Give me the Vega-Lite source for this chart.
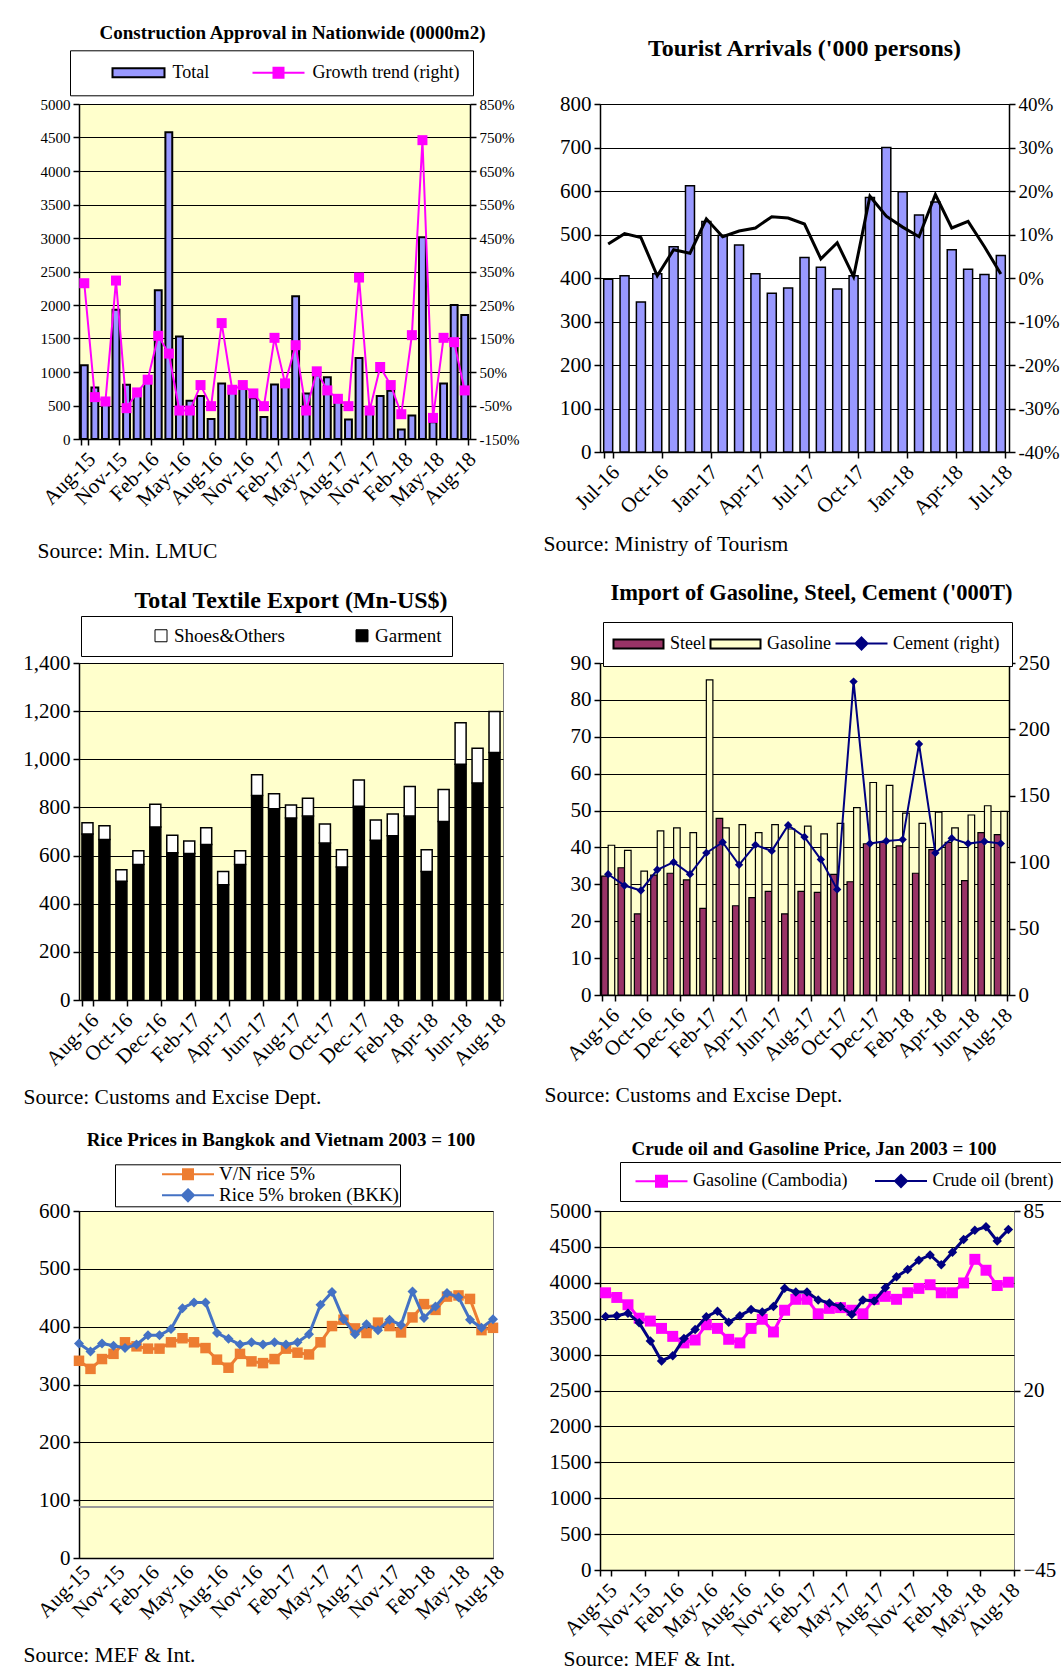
{
  "$schema": "https://vega.github.io/schema/vega-lite/v6.json",
  "padding": {"left": 22, "top": 23, "right": 0, "bottom": 0},
  "background": "white",
  "columns": 2,
  "align": "none",
  "bounds": "flush",
  "spacing": {"row": 211, "column": 97},
  "resolve": {
    "scale": {"color": "independent", "shape": "independent", "stroke": "independent", "fill": "independent"},
    "legend": {"color": "independent", "shape": "independent", "stroke": "independent", "fill": "independent"}
  },
  "datasets": {
    "p1": [
      {"m": "Aug-15", "total": 1100, "growth": 315}, {"m": "Sep-15", "total": 770, "growth": -25}, {"m": "Oct-15", "total": 560, "growth": -38},
      {"m": "Nov-15", "total": 1930, "growth": 323}, {"m": "Dec-15", "total": 810, "growth": -58}, {"m": "Jan-16", "total": 650, "growth": -11},
      {"m": "Feb-16", "total": 900, "growth": 27}, {"m": "Mar-16", "total": 2220, "growth": 158}, {"m": "Apr-16", "total": 4580, "growth": 105},
      {"m": "May-16", "total": 1530, "growth": -65}, {"m": "Jun-16", "total": 570, "growth": -65}, {"m": "Jul-16", "total": 640, "growth": 11},
      {"m": "Aug-16", "total": 300, "growth": -52}, {"m": "Sep-16", "total": 830, "growth": 196}, {"m": "Oct-16", "total": 720, "growth": -3},
      {"m": "Nov-16", "total": 750, "growth": 11}, {"m": "Dec-16", "total": 610, "growth": -14}, {"m": "Jan-17", "total": 330, "growth": -52},
      {"m": "Feb-17", "total": 815, "growth": 152}, {"m": "Mar-17", "total": 780, "growth": 16}, {"m": "Apr-17", "total": 2130, "growth": 130},
      {"m": "May-17", "total": 680, "growth": -65}, {"m": "Jun-17", "total": 950, "growth": 52}, {"m": "Jul-17", "total": 920, "growth": -5},
      {"m": "Aug-17", "total": 560, "growth": -30}, {"m": "Sep-17", "total": 290, "growth": -52}, {"m": "Oct-17", "total": 1210, "growth": 332},
      {"m": "Nov-17", "total": 400, "growth": -65}, {"m": "Dec-17", "total": 640, "growth": 65}, {"m": "Jan-18", "total": 720, "growth": 11},
      {"m": "Feb-18", "total": 140, "growth": -76}, {"m": "Mar-18", "total": 350, "growth": 160}, {"m": "Apr-18", "total": 3010, "growth": 742},
      {"m": "May-18", "total": 250, "growth": -87}, {"m": "Jun-18", "total": 830, "growth": 152}, {"m": "Jul-18", "total": 2000, "growth": 139},
      {"m": "Aug-18", "total": 1850, "growth": -5}
    ],
    "p2": [
      {"m": "Jul-16", "arr": 397, "g": 7.8}, {"m": "Aug-16", "arr": 405, "g": 10.2}, {"m": "Sep-16", "arr": 345, "g": 9.3},
      {"m": "Oct-16", "arr": 410, "g": 0.5}, {"m": "Nov-16", "arr": 472, "g": 6.5}, {"m": "Dec-16", "arr": 612, "g": 5.7},
      {"m": "Jan-17", "arr": 530, "g": 13.6}, {"m": "Feb-17", "arr": 498, "g": 9.5}, {"m": "Mar-17", "arr": 476, "g": 10.8},
      {"m": "Apr-17", "arr": 410, "g": 11.5}, {"m": "May-17", "arr": 365, "g": 14.1}, {"m": "Jun-17", "arr": 377, "g": 13.8},
      {"m": "Jul-17", "arr": 447, "g": 12.4}, {"m": "Aug-17", "arr": 425, "g": 4.4}, {"m": "Sep-17", "arr": 375, "g": 8.1},
      {"m": "Oct-17", "arr": 405, "g": 0.3}, {"m": "Nov-17", "arr": 585, "g": 18.8}, {"m": "Dec-17", "arr": 700, "g": 14.2},
      {"m": "Jan-18", "arr": 598, "g": 11.7}, {"m": "Feb-18", "arr": 545, "g": 9.5}, {"m": "Mar-18", "arr": 575, "g": 19.2},
      {"m": "Apr-18", "arr": 465, "g": 11.5}, {"m": "May-18", "arr": 420, "g": 13}, {"m": "Jun-18", "arr": 408, "g": 7.2},
      {"m": "Jul-18", "arr": 452, "g": 0.9}
    ],
    "p3": [
      {"m": "Aug-16", "type": "Garment", "v": 690}, {"m": "Aug-16", "type": "Shoes&Others", "v": 46},
      {"m": "Sep-16", "type": "Garment", "v": 667}, {"m": "Sep-16", "type": "Shoes&Others", "v": 57},
      {"m": "Oct-16", "type": "Garment", "v": 493}, {"m": "Oct-16", "type": "Shoes&Others", "v": 48},
      {"m": "Nov-16", "type": "Garment", "v": 563}, {"m": "Nov-16", "type": "Shoes&Others", "v": 57},
      {"m": "Dec-16", "type": "Garment", "v": 719}, {"m": "Dec-16", "type": "Shoes&Others", "v": 94},
      {"m": "Jan-17", "type": "Garment", "v": 612}, {"m": "Jan-17", "type": "Shoes&Others", "v": 72},
      {"m": "Feb-17", "type": "Garment", "v": 609}, {"m": "Feb-17", "type": "Shoes&Others", "v": 52},
      {"m": "Mar-17", "type": "Garment", "v": 646}, {"m": "Mar-17", "type": "Shoes&Others", "v": 70},
      {"m": "Apr-17", "type": "Garment", "v": 479}, {"m": "Apr-17", "type": "Shoes&Others", "v": 55},
      {"m": "May-17", "type": "Garment", "v": 563}, {"m": "May-17", "type": "Shoes&Others", "v": 57},
      {"m": "Jun-17", "type": "Garment", "v": 850}, {"m": "Jun-17", "type": "Shoes&Others", "v": 86},
      {"m": "Jul-17", "type": "Garment", "v": 794}, {"m": "Jul-17", "type": "Shoes&Others", "v": 63},
      {"m": "Aug-17", "type": "Garment", "v": 756}, {"m": "Aug-17", "type": "Shoes&Others", "v": 54},
      {"m": "Sep-17", "type": "Garment", "v": 764}, {"m": "Sep-17", "type": "Shoes&Others", "v": 74},
      {"m": "Oct-17", "type": "Garment", "v": 652}, {"m": "Oct-17", "type": "Shoes&Others", "v": 79},
      {"m": "Nov-17", "type": "Garment", "v": 553}, {"m": "Nov-17", "type": "Shoes&Others", "v": 71},
      {"m": "Dec-17", "type": "Garment", "v": 805}, {"m": "Dec-17", "type": "Shoes&Others", "v": 109},
      {"m": "Jan-18", "type": "Garment", "v": 664}, {"m": "Jan-18", "type": "Shoes&Others", "v": 84},
      {"m": "Feb-18", "type": "Garment", "v": 682}, {"m": "Feb-18", "type": "Shoes&Others", "v": 91},
      {"m": "Mar-18", "type": "Garment", "v": 764}, {"m": "Mar-18", "type": "Shoes&Others", "v": 123},
      {"m": "Apr-18", "type": "Garment", "v": 534}, {"m": "Apr-18", "type": "Shoes&Others", "v": 90},
      {"m": "May-18", "type": "Garment", "v": 742}, {"m": "May-18", "type": "Shoes&Others", "v": 133},
      {"m": "Jun-18", "type": "Garment", "v": 979}, {"m": "Jun-18", "type": "Shoes&Others", "v": 173},
      {"m": "Jul-18", "type": "Garment", "v": 902}, {"m": "Jul-18", "type": "Shoes&Others", "v": 144},
      {"m": "Aug-18", "type": "Garment", "v": 1028}, {"m": "Aug-18", "type": "Shoes&Others", "v": 171}
    ],
    "p4": [
      {"m": "Aug-16", "Steel": 32.2, "Gasoline": 40.6, "cement": 90.9}, {"m": "Sep-16", "Steel": 34.5, "Gasoline": 39.2, "cement": 82.4},
      {"m": "Oct-16", "Steel": 22, "Gasoline": 33.6, "cement": 78.7}, {"m": "Nov-16", "Steel": 32.5, "Gasoline": 44.5, "cement": 94.3},
      {"m": "Dec-16", "Steel": 33, "Gasoline": 45.3, "cement": 100}, {"m": "Jan-17", "Steel": 31.2, "Gasoline": 44, "cement": 91},
      {"m": "Feb-17", "Steel": 23.5, "Gasoline": 85.4, "cement": 107}, {"m": "Mar-17", "Steel": 47.9, "Gasoline": 45.3, "cement": 115},
      {"m": "Apr-17", "Steel": 24.2, "Gasoline": 46.2, "cement": 98}, {"m": "May-17", "Steel": 26.4, "Gasoline": 44, "cement": 113},
      {"m": "Jun-17", "Steel": 28.1, "Gasoline": 46.2, "cement": 108.5}, {"m": "Jul-17", "Steel": 22, "Gasoline": 45, "cement": 127.8},
      {"m": "Aug-17", "Steel": 28.1, "Gasoline": 45.8, "cement": 119}, {"m": "Sep-17", "Steel": 27.8, "Gasoline": 43.7, "cement": 102},
      {"m": "Oct-17", "Steel": 32.7, "Gasoline": 46.5, "cement": 79.5}, {"m": "Nov-17", "Steel": 30.7, "Gasoline": 50.8, "cement": 236},
      {"m": "Dec-17", "Steel": 41, "Gasoline": 57.6, "cement": 114}, {"m": "Jan-18", "Steel": 41.4, "Gasoline": 56.8, "cement": 116},
      {"m": "Feb-18", "Steel": 40.4, "Gasoline": 49.3, "cement": 117}, {"m": "Mar-18", "Steel": 33, "Gasoline": 46.5, "cement": 189},
      {"m": "Apr-18", "Steel": 39.4, "Gasoline": 49.6, "cement": 107}, {"m": "May-18", "Steel": 41.4, "Gasoline": 45.3, "cement": 118},
      {"m": "Jun-18", "Steel": 31, "Gasoline": 48.8, "cement": 114}, {"m": "Jul-18", "Steel": 44, "Gasoline": 51.3, "cement": 115.6},
      {"m": "Aug-18", "Steel": 43.5, "Gasoline": 49.8, "cement": 114}
    ],
    "p5": [
      {"m": "Aug-15", "vn": 341, "bkk": 371}, {"m": "Sep-15", "vn": 327, "bkk": 357}, {"m": "Oct-15", "vn": 344, "bkk": 371},
      {"m": "Nov-15", "vn": 353, "bkk": 367}, {"m": "Dec-15", "vn": 373, "bkk": 363}, {"m": "Jan-16", "vn": 366, "bkk": 369},
      {"m": "Feb-16", "vn": 362, "bkk": 385}, {"m": "Mar-16", "vn": 362, "bkk": 385}, {"m": "Apr-16", "vn": 373, "bkk": 396},
      {"m": "May-16", "vn": 380, "bkk": 432}, {"m": "Jun-16", "vn": 373, "bkk": 442}, {"m": "Jul-16", "vn": 363, "bkk": 442},
      {"m": "Aug-16", "vn": 343, "bkk": 389}, {"m": "Sep-16", "vn": 329, "bkk": 379}, {"m": "Oct-16", "vn": 353, "bkk": 369},
      {"m": "Nov-16", "vn": 340, "bkk": 373}, {"m": "Dec-16", "vn": 337, "bkk": 369}, {"m": "Jan-17", "vn": 344, "bkk": 373},
      {"m": "Feb-17", "vn": 362, "bkk": 369}, {"m": "Mar-17", "vn": 355, "bkk": 373}, {"m": "Apr-17", "vn": 352, "bkk": 387},
      {"m": "May-17", "vn": 373, "bkk": 438}, {"m": "Jun-17", "vn": 401, "bkk": 460}, {"m": "Jul-17", "vn": 412, "bkk": 413},
      {"m": "Aug-17", "vn": 397, "bkk": 387}, {"m": "Sep-17", "vn": 389, "bkk": 404}, {"m": "Oct-17", "vn": 407, "bkk": 394},
      {"m": "Nov-17", "vn": 401, "bkk": 412}, {"m": "Dec-17", "vn": 390, "bkk": 403}, {"m": "Jan-18", "vn": 416, "bkk": 461},
      {"m": "Feb-18", "vn": 439, "bkk": 415}, {"m": "Mar-18", "vn": 429, "bkk": 435}, {"m": "Apr-18", "vn": 452, "bkk": 458},
      {"m": "May-18", "vn": 454, "bkk": 451}, {"m": "Jun-18", "vn": 448, "bkk": 412}, {"m": "Jul-18", "vn": 394, "bkk": 398},
      {"m": "Aug-18", "vn": 398, "bkk": 413}
    ],
    "p6": [
      {"m": "Aug-15", "gas": 3861, "crude": 46.8}, {"m": "Sep-15", "gas": 3796, "crude": 47.1}, {"m": "Oct-15", "gas": 3694, "crude": 48.0},
      {"m": "Nov-15", "gas": 3507, "crude": 44.5}, {"m": "Dec-15", "gas": 3467, "crude": 37.9}, {"m": "Jan-16", "gas": 3365, "crude": 30.7},
      {"m": "Feb-16", "gas": 3254, "crude": 32.6}, {"m": "Mar-16", "gas": 3163, "crude": 38.8}, {"m": "Apr-16", "gas": 3203, "crude": 42.1},
      {"m": "May-16", "gas": 3416, "crude": 46.7}, {"m": "Jun-16", "gas": 3365, "crude": 48.7}, {"m": "Jul-16", "gas": 3213, "crude": 44.7},
      {"m": "Aug-16", "gas": 3163, "crude": 47.1}, {"m": "Sep-16", "gas": 3365, "crude": 49.3}, {"m": "Oct-16", "gas": 3492, "crude": 48.4},
      {"m": "Nov-16", "gas": 3315, "crude": 50.4}, {"m": "Dec-16", "gas": 3618, "crude": 57.0}, {"m": "Jan-17", "gas": 3770, "crude": 55.7},
      {"m": "Feb-17", "gas": 3770, "crude": 55.7}, {"m": "Mar-17", "gas": 3568, "crude": 52.8}, {"m": "Apr-17", "gas": 3644, "crude": 51.7},
      {"m": "May-17", "gas": 3654, "crude": 50.4}, {"m": "Jun-17", "gas": 3618, "crude": 47.5}, {"m": "Jul-17", "gas": 3568, "crude": 52.8},
      {"m": "Aug-17", "gas": 3770, "crude": 52.4}, {"m": "Sep-17", "gas": 3811, "crude": 57.2}, {"m": "Oct-17", "gas": 3770, "crude": 61.2},
      {"m": "Nov-17", "gas": 3861, "crude": 63.8}, {"m": "Dec-17", "gas": 3922, "crude": 67.2}, {"m": "Jan-18", "gas": 3973, "crude": 69.1},
      {"m": "Feb-18", "gas": 3861, "crude": 65.5}, {"m": "Mar-18", "gas": 3861, "crude": 70.1}, {"m": "Apr-18", "gas": 3998, "crude": 74.7},
      {"m": "May-18", "gas": 4327, "crude": 78.0}, {"m": "Jun-18", "gas": 4175, "crude": 79.3}, {"m": "Jul-18", "gas": 3962, "crude": 74.1},
      {"m": "Aug-18", "gas": 4008, "crude": 78.3}
    ]
  },
  "concat": [
    {
      "width": 391, "height": 335,
      "title": {"text": "Construction Approval in Nationwide (0000m2)", "fontSize": 19, "offset": -12, "baseline": "bottom", "dx": 18},
      "layer": [
        {
          "data": {"name": "p1"},
          "mark": {"type": "bar", "fill": "#9999FF", "stroke": "black", "strokeWidth": 2},
          "encoding": {
            "x": {"field": "m", "type": "nominal", "sort": null, "scale": {"paddingInner": 0.35, "paddingOuter": 0.175},
              "axis": {"values": ["Aug-15","Nov-15","Feb-16","May-16","Aug-16","Nov-16","Feb-17","May-17","Aug-17","Nov-17","Feb-18","May-18","Aug-18"],
                "labelFontSize": 21, "title": "Source: Min. LMUC", "titleX": -42, "titleY": 112.3, "titleAlign": "left", "titleBaseline": "middle", "titleAngle": 0}},
            "y": {"field": "total", "type": "quantitative", "scale": {"domain": [0, 5000]},
              "axis": {"values": [0,500,1000,1500,2000,2500,3000,3500,4000,4500,5000], "format": "d", "title": null, "grid": true, "labelFontSize": 15}}
          }
        },
        {
          "data": {"name": "p1"},
          "mark": {"type": "line", "color": "#FF00FF", "strokeWidth": 2, "point": {"shape": "square", "size": 100, "filled": true, "color": "#FF00FF"}},
          "encoding": {
            "x": {"field": "m", "type": "nominal", "sort": null},
            "y": {"field": "growth", "type": "quantitative", "scale": {"domain": [-150, 850]},
              "axis": {"orient": "right", "values": [-150,-50,50,150,250,350,450,550,650,750,850], "labelExpr": "datum.value + '%'", "title": null, "grid": false, "labelFontSize": 15}}
          }
        },
        {
          "data": {"values": [{"s": "Total"}, {"s": "Growth trend (right)"}]},
          "mark": {"type": "point", "filled": true, "clip": true},
          "encoding": {
            "y": {"datum": 5, "type": "quantitative", "scale": {"domain": [0, 1]}, "axis": null},
            "color": {"field": "s", "type": "nominal", "scale": {"domain": ["Total", "Growth trend (right)"], "range": ["#9999FF", "#FF00FF"]},
              "legend": {"title": null, "orient": "none", "legendX": -9, "legendY": -53.7, "direction": "horizontal", "padding": 13.5, "columnPadding": 14, "symbolOffset": 46, "labelOffset": 25, "labelFontSize": 18}},
            "shape": {"field": "s", "type": "nominal", "scale": {"domain": ["Total", "Growth trend (right)"], "range": ["M-5.2,-0.9H5.2V0.9H-5.2Z", "M-5.2,0H5.2M-1,-1H1V1H-1Z"]},
              "legend": {"title": null, "orient": "none", "legendX": -9, "legendY": -53.7, "direction": "horizontal", "padding": 13.5, "columnPadding": 14, "symbolOffset": 46, "labelOffset": 25, "labelFontSize": 18}},
            "stroke": {"field": "s", "type": "nominal", "scale": {"domain": ["Total", "Growth trend (right)"], "range": ["black", "#FF00FF"]},
              "legend": {"title": null, "orient": "none", "legendX": -9, "legendY": -53.7, "direction": "horizontal", "padding": 13.5, "columnPadding": 14, "symbolOffset": 46, "labelOffset": 25, "labelFontSize": 18}}
          }
        }
      ],
      "resolve": {"scale": {"y": "independent"}}
    },
    {
      "width": 409, "height": 348,
      "view": {"fill": "white", "stroke": "black"},
      "title": {"text": "Tourist Arrivals ('000 persons)", "fontSize": 24, "offset": 8.3, "baseline": "bottom"},
      "layer": [
        {
          "data": {"name": "p2"},
          "mark": {"type": "bar", "fill": "#9999FF", "stroke": "black", "strokeWidth": 1.5},
          "encoding": {
            "x": {"field": "m", "type": "nominal", "sort": null, "scale": {"paddingInner": 0.45, "paddingOuter": 0.225},
              "axis": {"values": ["Jul-16","Oct-16","Jan-17","Apr-17","Jul-17","Oct-17","Jan-18","Apr-18","Jul-18"],
                "labelFontSize": 21, "title": "Source: Ministry of Tourism", "titleX": -57, "titleY": 92.3, "titleAlign": "left", "titleBaseline": "middle", "titleAngle": 0}},
            "y": {"field": "arr", "type": "quantitative", "scale": {"domain": [0, 800]},
              "axis": {"values": [0,100,200,300,400,500,600,700,800], "title": null, "grid": true, "labelFontSize": 21}}
          }
        },
        {
          "data": {"name": "p2"},
          "mark": {"type": "line", "color": "black", "strokeWidth": 3},
          "encoding": {
            "x": {"field": "m", "type": "nominal", "sort": null},
            "y": {"field": "g", "type": "quantitative", "scale": {"domain": [-40, 40]},
              "axis": {"orient": "right", "values": [-40,-30,-20,-10,0,10,20,30,40], "labelExpr": "datum.value + '%'", "title": null, "grid": false, "labelFontSize": 19}}
          }
        }
      ],
      "resolve": {"scale": {"y": "independent"}}
    },
    {
      "width": 424, "height": 337,
      "title": {"text": "Total Textile Export (Mn-US$)", "fontSize": 24, "offset": -21, "baseline": "bottom"},
      "data": {"name": "p3"},
      "mark": {"type": "bar", "stroke": "black", "strokeWidth": 1.5},
      "encoding": {
        "x": {"field": "m", "type": "nominal", "sort": null, "scale": {"paddingInner": 0.35, "paddingOuter": 0.175},
          "axis": {"values": ["Aug-16","Oct-16","Dec-16","Feb-17","Apr-17","Jun-17","Aug-17","Oct-17","Dec-17","Feb-18","Apr-18","Jun-18","Aug-18"],
            "labelFontSize": 21, "title": "Source: Customs and Excise Dept.", "titleX": -56, "titleY": 97.3, "titleAlign": "left", "titleBaseline": "middle", "titleAngle": 0}},
        "y": {"field": "v", "type": "quantitative", "stack": "zero", "scale": {"domain": [0, 1400]},
          "axis": {"values": [0,200,400,600,800,1000,1200,1400], "format": ",.0f", "title": null, "grid": true, "labelFontSize": 21}},
        "order": {"field": "type", "type": "nominal", "sort": "ascending"},
        "color": {"field": "type", "type": "nominal", "scale": {"domain": ["Shoes&Others", "Garment"], "range": ["white", "black"]},
          "legend": {"title": null, "orient": "none", "legendX": 2, "legendY": -47, "direction": "horizontal", "padding": 10, "columnPadding": 7, "gridAlign": "all",
            "symbolType": "square", "symbolSize": 144, "symbolStrokeColor": "black", "symbolStrokeWidth": 1, "symbolOffset": 60.5, "labelOffset": 3.5, "labelFontSize": 19}}
      }
    },
    {
      "width": 409, "height": 332,
      "title": {"text": "Import of Gasoline, Steel, Cement ('000T)", "fontSize": 22.5, "offset": -6, "baseline": "bottom", "dx": 7},
      "layer": [
        {
          "data": {"name": "p4"},
          "transform": [{"fold": ["Steel", "Gasoline"], "as": ["type", "v"]}],
          "mark": {"type": "bar", "stroke": "black", "strokeWidth": 1.2},
          "encoding": {
            "x": {"field": "m", "type": "nominal", "sort": null, "scale": {"paddingInner": 0.2, "paddingOuter": 0.1},
              "axis": {"values": ["Aug-16","Oct-16","Dec-16","Feb-17","Apr-17","Jun-17","Aug-17","Oct-17","Dec-17","Feb-18","Apr-18","Jun-18","Aug-18"],
                "labelFontSize": 21, "title": "Source: Customs and Excise Dept.", "titleX": -56, "titleY": 100.3, "titleAlign": "left", "titleBaseline": "middle", "titleAngle": 0}},
            "xOffset": {"field": "type", "type": "nominal", "sort": ["Steel", "Gasoline"]},
            "y": {"field": "v", "type": "quantitative", "stack": null, "scale": {"domain": [0, 90]},
              "axis": {"values": [0,10,20,30,40,50,60,70,80,90], "title": null, "grid": true, "labelFontSize": 21}},
            "fill": {"field": "type", "type": "nominal", "scale": {"domain": ["Steel", "Gasoline"], "range": ["#993366", "#FFFFCC"]}, "legend": null}
          }
        },
        {
          "data": {"name": "p4"},
          "mark": {"type": "line", "color": "#000080", "strokeWidth": 2, "point": {"shape": "diamond", "size": 70, "filled": true, "color": "#000080"}},
          "encoding": {
            "x": {"field": "m", "type": "nominal", "sort": null},
            "y": {"field": "cement", "type": "quantitative", "scale": {"domain": [0, 250]},
              "axis": {"orient": "right", "values": [0,50,100,150,200,250], "title": null, "grid": false, "labelFontSize": 21}}
          }
        },
        {
          "data": {"values": [{"s": "Steel"}, {"s": "Gasoline"}, {"s": "Cement (right)"}]},
          "mark": {"type": "point", "filled": true, "clip": true},
          "encoding": {
            "y": {"datum": 5, "type": "quantitative", "scale": {"domain": [0, 1]}, "axis": null},
            "color": {"field": "s", "type": "nominal", "scale": {"domain": ["Steel", "Gasoline", "Cement (right)"], "range": ["#993366", "#FFFFCC", "#000080"]},
              "legend": {"title": null, "orient": "none", "legendX": 3, "legendY": -41, "direction": "horizontal", "padding": 12.5, "columnPadding": 0, "symbolOffset": 14, "labelOffset": 22.5, "labelFontSize": 18}},
            "shape": {"field": "s", "type": "nominal", "scale": {"domain": ["Steel", "Gasoline", "Cement (right)"], "range": ["M-5,-0.9H5V0.9H-5Z", "M-5,-0.9H5V0.9H-5Z", "M-5.2,0H5.2M0,-1.2L1.2,0L0,1.2L-1.2,0Z"]},
              "legend": {"title": null, "orient": "none", "legendX": 3, "legendY": -41, "direction": "horizontal", "padding": 12.5, "columnPadding": 0, "symbolOffset": 14, "labelOffset": 22.5, "labelFontSize": 18}},
            "stroke": {"field": "s", "type": "nominal", "scale": {"domain": ["Steel", "Gasoline", "Cement (right)"], "range": ["black", "black", "#000080"]},
              "legend": {"title": null, "orient": "none", "legendX": 3, "legendY": -41, "direction": "horizontal", "padding": 12.5, "columnPadding": 0, "symbolOffset": 14, "labelOffset": 22.5, "labelFontSize": 18}}
          }
        }
      ],
      "resolve": {"scale": {"y": "independent"}}
    },
    {
      "width": 414, "height": 347,
      "title": {"text": "Rice Prices in Bangkok and Vietnam 2003 = 100", "fontSize": 19, "offset": -5.5, "baseline": "bottom", "dx": -5},
      "layer": [
        {
          "data": {"name": "p5"},
          "encoding": {
            "x": {"field": "m", "type": "ordinal", "sort": null, "scale": {"type": "point", "padding": 0},
              "axis": {"values": ["Aug-15","Nov-15","Feb-16","May-16","Aug-16","Nov-16","Feb-17","May-17","Aug-17","Nov-17","Feb-18","May-18","Aug-18"],
                "labelFontSize": 21, "ticks": false, "title": "Source: MEF & Int.", "titleX": -56, "titleY": 97.3, "titleAlign": "left", "titleBaseline": "middle", "titleAngle": 0}}
          },
          "layer": [
            {
              "mark": {"type": "rule", "color": "#9a9a9a", "strokeWidth": 1},
              "encoding": {"y": {"datum": 88, "type": "quantitative", "scale": {"domain": [0, 600]},
                "axis": {"values": [0,100,200,300,400,500,600], "title": null, "grid": true, "labelFontSize": 21}}, "x": null}
            },
            {
              "mark": {"type": "line", "color": "#ED7D31", "strokeWidth": 3, "point": {"shape": "square", "size": 110, "filled": true, "color": "#ED7D31"}},
              "encoding": {"y": {"field": "vn", "type": "quantitative"}}
            },
            {
              "mark": {"type": "line", "color": "#4472C4", "strokeWidth": 3, "point": {"shape": "diamond", "size": 100, "filled": true, "color": "#4472C4"}},
              "encoding": {"y": {"field": "bkk", "type": "quantitative"}}
            }
          ]
        },
        {
          "data": {"values": [{"s": "V/N rice 5%"}, {"s": "Rice 5% broken (BKK)"}]},
          "mark": {"type": "point", "filled": true, "clip": true},
          "encoding": {
            "y": {"datum": 5, "type": "quantitative", "scale": {"domain": [0, 1]}, "axis": null},
            "color": {"field": "s", "type": "nominal", "scale": {"domain": ["V/N rice 5%", "Rice 5% broken (BKK)"], "range": ["#ED7D31", "#4472C4"]},
              "legend": {"title": null, "orient": "none", "legendX": 36, "legendY": -46.7, "direction": "vertical", "padding": 0.5, "rowPadding": 0, "symbolOffset": 63, "labelOffset": 21.5, "labelFontSize": 19, "labelLimit": 300}},
            "shape": {"field": "s", "type": "nominal", "scale": {"domain": ["V/N rice 5%", "Rice 5% broken (BKK)"], "range": ["M-5.2,0H5.2M-1,-1H1V1H-1Z", "M-5.2,0H5.2M0,-1.2L1.2,0L0,1.2L-1.2,0Z"]},
              "legend": {"title": null, "orient": "none", "legendX": 36, "legendY": -46.7, "direction": "vertical", "padding": 0.5, "rowPadding": 0, "symbolOffset": 63, "labelOffset": 21.5, "labelFontSize": 19, "labelLimit": 300}},
            "stroke": {"field": "s", "type": "nominal", "scale": {"domain": ["V/N rice 5%", "Rice 5% broken (BKK)"], "range": ["#ED7D31", "#4472C4"]},
              "legend": {"title": null, "orient": "none", "legendX": 36, "legendY": -46.7, "direction": "vertical", "padding": 0.5, "rowPadding": 0, "symbolOffset": 63, "labelOffset": 21.5, "labelFontSize": 19, "labelLimit": 300}}
          }
        }
      ],
      "resolve": {"scale": {"y": "independent"}}
    },
    {
      "width": 414, "height": 359,
      "title": {"text": "Crude oil and Gasoline Price, Jan 2003 = 100", "fontSize": 19, "offset": -16, "baseline": "bottom", "dx": 7},
      "layer": [
        {
          "data": {"name": "p6"},
          "mark": {"type": "line", "color": "#FF00FF", "strokeWidth": 3, "point": {"shape": "square", "size": 120, "filled": true, "color": "#FF00FF"}},
          "encoding": {
            "x": {"field": "m", "type": "nominal", "sort": null, "scale": {"type": "band", "paddingInner": 0, "paddingOuter": 0},
              "axis": {"values": ["Aug-15","Nov-15","Feb-16","May-16","Aug-16","Nov-16","Feb-17","May-17","Aug-17","Nov-17","Feb-18","May-18","Aug-18"],
                "labelFontSize": 21, "title": "Source: MEF & Int.", "titleX": -37, "titleY": 89.3, "titleAlign": "left", "titleBaseline": "middle", "titleAngle": 0}},
            "y": {"field": "gas", "type": "quantitative", "scale": {"domain": [0, 5000]},
              "axis": {"values": [0,500,1000,1500,2000,2500,3000,3500,4000,4500,5000], "format": "d", "title": null, "grid": true, "labelFontSize": 21}}
          }
        },
        {
          "data": {"name": "p6"},
          "mark": {"type": "line", "color": "#000080", "strokeWidth": 3, "point": {"shape": "diamond", "size": 90, "filled": true, "color": "#000080"}},
          "encoding": {
            "x": {"field": "m", "type": "nominal", "sort": null},
            "y": {"field": "crude", "type": "quantitative", "scale": {"domain": [-45, 85]},
              "axis": {"orient": "right", "values": [-45, 20, 85], "title": null, "grid": false, "labelFontSize": 21, "domain": false}}
          }
        },
        {
          "data": {"values": [{"s": "Gasoline (Cambodia)"}, {"s": "Crude oil (brent)"}]},
          "mark": {"type": "point", "filled": true, "clip": true},
          "encoding": {
            "y": {"datum": 5, "type": "quantitative", "scale": {"domain": [0, 1]}, "axis": null},
            "color": {"field": "s", "type": "nominal", "scale": {"domain": ["Gasoline (Cambodia)", "Crude oil (brent)"], "range": ["#FF00FF", "#000080"]},
              "legend": {"title": null, "orient": "none", "legendX": 20, "legendY": -49, "direction": "horizontal", "padding": 10, "columnPadding": 21.5, "symbolOffset": 22.5, "labelOffset": 22.5, "labelFontSize": 18}},
            "shape": {"field": "s", "type": "nominal", "scale": {"domain": ["Gasoline (Cambodia)", "Crude oil (brent)"], "range": ["M-5.2,0H5.2M-1.1,-1.1H1.1V1.1H-1.1Z", "M-5.2,0H5.2M0,-1.2L1.2,0L0,1.2L-1.2,0Z"]},
              "legend": {"title": null, "orient": "none", "legendX": 20, "legendY": -49, "direction": "horizontal", "padding": 10, "columnPadding": 21.5, "symbolOffset": 22.5, "labelOffset": 22.5, "labelFontSize": 18}},
            "stroke": {"field": "s", "type": "nominal", "scale": {"domain": ["Gasoline (Cambodia)", "Crude oil (brent)"], "range": ["#FF00FF", "#000080"]},
              "legend": {"title": null, "orient": "none", "legendX": 20, "legendY": -49, "direction": "horizontal", "padding": 10, "columnPadding": 21.5, "symbolOffset": 22.5, "labelOffset": 22.5, "labelFontSize": 18}}
          }
        }
      ],
      "resolve": {"scale": {"y": "independent"}}
    }
  ],
  "config": {
    "font": "Liberation Serif",
    "view": {"fill": "#FFFFCC", "stroke": "#808080", "strokeWidth": 1},
    "axis": {"domainColor": "black", "domainWidth": 1.5, "tickColor": "black", "tickSize": 6, "tickWidth": 1.5, "gridColor": "black", "gridWidth": 1,
      "labelColor": "black", "labelFont": "Liberation Serif", "labelPadding": 3, "titleFont": "Liberation Serif", "titleFontWeight": "normal", "titleColor": "black", "titleFontSize": 21.5},
    "axisX": {"grid": false, "labelAngle": -45, "tickBand": "extent"},
    "legend": {"labelFont": "Liberation Serif", "labelColor": "black", "strokeColor": "black", "fillColor": "white", "symbolStrokeWidth": 2, "symbolSize": 100, "symbolOpacity": 1},
    "title": {"font": "Liberation Serif", "fontWeight": "bold", "color": "black", "anchor": "middle", "frame": "group"}
  }
}
